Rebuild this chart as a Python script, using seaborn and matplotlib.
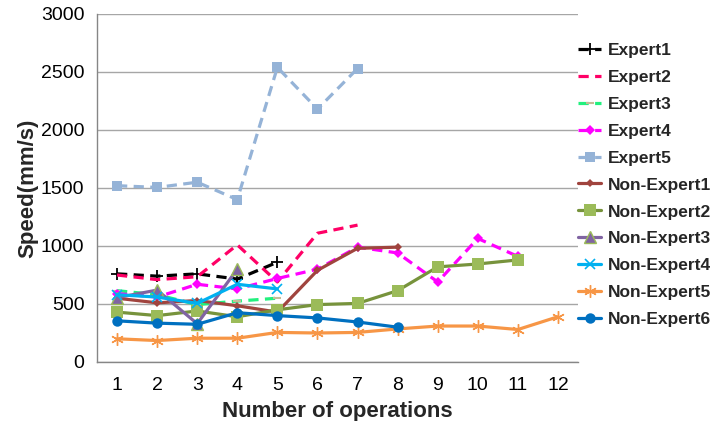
import numpy as np
import pandas as pd
import matplotlib
matplotlib.use("Agg")
import matplotlib.pyplot as plt
import seaborn as sns

operations = list(range(1, 13))
expert1 = [760, 740, 760, 715, 860]
expert2 = [750, 710, 735, 1010, 690, 1110, 1180]
expert3 = [615, 580, 495, 525, 550]
expert4 = [590, 560, 670, 630, 720, 800, 990, 940, 690, 1065, 910]
expert5 = [1520, 1505, 1550, 1400, 2540, 2180, 2530]
non_expert1 = [550, 510, 530, 485, 430, 790, 980, 990]
non_expert2 = [430, 400, 440, 390, 450, 495, 505, 615, 820, 845, 880]
non_expert3 = [555, 620, 330, 800]
non_expert4 = [580, 560, 505, 670, 630]
non_expert5 = [200, 185, 205, 205, 255, 250, 255, 285, 310, 310, 280, 390]
non_expert6 = [355, 335, 325, 425, 400, 380, 345, 300]
y_ticks = [0, 500, 1000, 1500, 2000, 2500, 3000]

series = {
    "Expert1": expert1, "Expert2": expert2, "Expert3": expert3,
    "Expert4": expert4, "Expert5": expert5,
    "Non-Expert1": non_expert1, "Non-Expert2": non_expert2,
    "Non-Expert3": non_expert3, "Non-Expert4": non_expert4,
    "Non-Expert5": non_expert5, "Non-Expert6": non_expert6,
}
rows = []
for name, vals in series.items():
    for i, v in enumerate(vals):
        rows.append({"series": name, "op": operations[i], "speed": v})
df = pd.DataFrame(rows)

dash = (3.2, 2.0)
styles = {
    "Expert1": dict(color="black", ls=dash, marker="+", mfc="black", mec="black", ms=9, mew=1.3),
    "Expert2": dict(color="#FF0066", ls=dash, marker=None),
    "Expert3": dict(color="#22F07E", ls=dash, marker="_", mec="#C4BD97", ms=6, mew=1.5),
    "Expert4": dict(color="#FF00FF", ls=dash, marker="D", mfc="#FF00FF", mec="#FF00FF", ms=5.5, mew=0),
    "Expert5": dict(color="#95B3D7", ls=dash, marker="s", mfc="#95B3D7", mec="#95B3D7", ms=7.5, mew=0),
    "Non-Expert1": dict(color="#A0443E", ls="-", marker="D", mfc="#A0443E", mec="#A0443E", ms=4.5, mew=0),
    "Non-Expert2": dict(color="#77933C", ls="-", marker="s", mfc="#9BBB59", mec="#9BBB59", ms=8, mew=0),
    "Non-Expert3": dict(color="#8064A2", ls="-", marker="^", mfc="#8064A2", mec="#9BBB59", ms=8, mew=1),
    "Non-Expert4": dict(color="#00B0F0", ls="-", marker="x", mfc="#00B0F0", mec="#00B0F0", ms=7, mew=1.2),
    "Non-Expert5": dict(color="#F79646", ls="-", marker=(6, 2, 0), mfc="#F79646", mec="#F79646", ms=9, mew=1),
    "Non-Expert6": dict(color="#0070C0", ls="-", marker="o", mfc="#0070C0", mec="#0070C0", ms=7.5, mew=0),
}

sns.set_style("white")
plt.rcParams["font.family"] = ["Liberation Sans", "DejaVu Sans"]

fig = plt.figure(figsize=(7.14, 4.21), dpi=100)
ax = fig.add_axes([97 / 714, 1 - 362 / 421, (578 - 97) / 714, (362 - 14) / 421])

for name in series:
    st = styles[name]
    sub = df[df["series"] == name]
    kw = dict(color=st["color"], linewidth=2.3, label=name)
    if st.get("marker") is not None:
        kw.update(marker=st["marker"], markersize=st["ms"], markerfacecolor=st.get("mfc", st["color"]),
                  markeredgecolor=st.get("mec", st["color"]), markeredgewidth=st.get("mew", 1))
    sns.lineplot(data=sub, x="op", y="speed", ax=ax, **kw)
    line = ax.get_lines()[-1]
    if isinstance(st["ls"], tuple):
        line.set_dashes(st["ls"])
        line.set_dash_capstyle("butt")
    else:
        line.set_linestyle(st["ls"])

ax.set_xlim(0.5, 12.5)
ax.set_ylim(0, 3000)
ax.set_yticks(y_ticks)
ax.set_xticks(operations)
ax.set_xticks(np.arange(0.5, 13, 1), minor=True)
ax.tick_params(axis="x", which="major", length=0, labelsize=14, pad=11, colors="black")
ax.tick_params(axis="x", which="minor", length=5, width=1, color="#868686", direction="out")
ax.tick_params(axis="y", which="major", length=5, width=1, color="#868686", direction="out",
               labelsize=14, pad=4, labelcolor="black")
ax.yaxis.grid(True, color="#A6A6A6", linewidth=1)
ax.xaxis.grid(False)
ax.set_axisbelow(True)
for s in ["top", "right"]:
    ax.spines[s].set_visible(False)
for s in ["left", "bottom"]:
    ax.spines[s].set_color("#868686")
    ax.spines[s].set_linewidth(1)

ax.set_xlabel("Number of operations", fontsize=16, fontweight="bold", labelpad=5)
ax.set_ylabel("Speed(mm/s)", fontsize=16, fontweight="bold", labelpad=2)

handles, labels = ax.get_legend_handles_labels()
if ax.get_legend() is not None:
    ax.get_legend().remove()
fig.legend(handles, labels, loc="center left", bbox_to_anchor=(578 / 714, 1 - 185 / 421),
           frameon=False, prop={"size": 12.5, "weight": "bold"}, handlelength=1.35,
           handletextpad=0.35, labelspacing=0.68, borderaxespad=0, borderpad=0)

fig.savefig("out.png", dpi=100)
